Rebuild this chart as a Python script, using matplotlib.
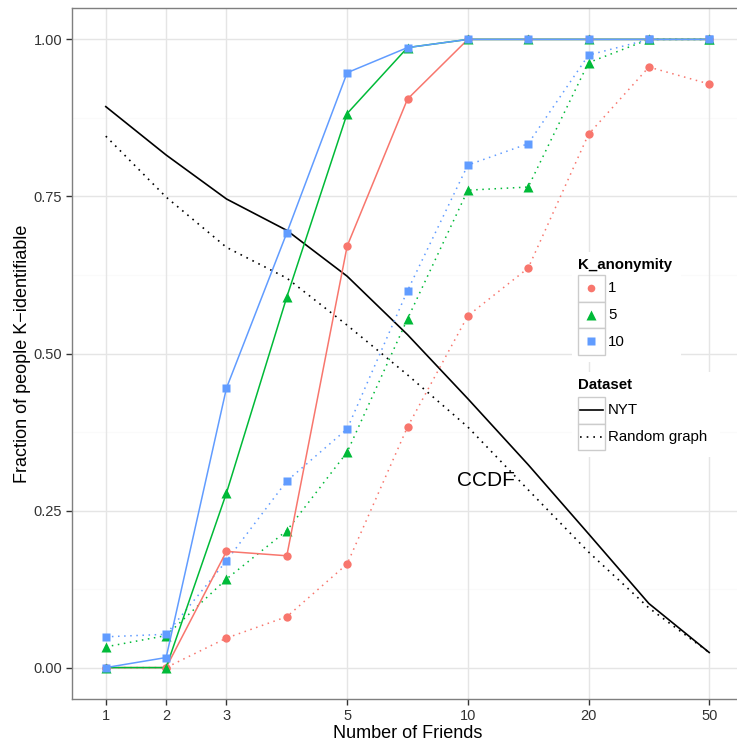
import matplotlib
matplotlib.use("Agg")
import matplotlib.pyplot as plt
from matplotlib.patches import Rectangle
from matplotlib.lines import Line2D

plt.rcParams['font.family'] = ['Liberation Sans', 'DejaVu Sans']

# x values are evenly spaced positions (ordinal friend counts)
friends = [1, 2, 3, 4, 5, 7, 10, 14, 20, 30, 50]
tick_labels = ['1', '2', '3', '5', '10', '20', '50']
tick_friends = [1, 2, 3, 5, 10, 20, 50]

ccdf_nyt = [0.893, 0.816, 0.746, 0.696, 0.623, 0.530, 0.428, 0.323, 0.213, 0.102, 0.024]
ccdf_random = [0.846, 0.749, 0.669, 0.620, 0.545, 0.466, 0.383, 0.283, 0.184, 0.095, 0.024]

nyt_k1 = [0.0, 0.0, 0.185, 0.178, 0.671, 0.905, 1.0, 1.0, 1.0, 1.0, 1.0]
nyt_k5 = [0.0, 0.0, 0.278, 0.590, 0.882, 0.987, 1.0, 1.0, 1.0, 1.0, 1.0]
nyt_k10 = [0.0, 0.016, 0.445, 0.692, 0.947, 0.987, 1.0, 1.0, 1.0, 1.0, 1.0]

rand_k1 = [0.0, 0.0, 0.047, 0.081, 0.165, 0.383, 0.560, 0.636, 0.849, 0.956, 0.929]
rand_k5 = [0.033, 0.051, 0.141, 0.218, 0.343, 0.555, 0.760, 0.765, 0.963, 1.0, 1.0]
rand_k10 = [0.049, 0.053, 0.170, 0.297, 0.380, 0.600, 0.800, 0.834, 0.975, 1.0, 1.0]

k_labels = ['1', '5', '10']
k_colors = ['#F8766D', '#00BA38', '#619CFF']
k_markers = ['o', '^', 's']
k_msize = [6, 7, 6]

W, H = 737, 742
fig = plt.figure(figsize=(W / 100, H / 100), dpi=100, facecolor='white')
# panel: left 72px, top 8px, bottom 699px, right runs past the image edge
ax = fig.add_axes([72 / W, 1 - 699 / H, (743 - 72) / W, (699 - 8) / H])

pos = list(range(len(friends)))
tick_pos = [friends.index(f) for f in tick_friends]

# grid
for y in [0.125, 0.375, 0.625, 0.875]:
    ax.axhline(y, color='#FAFAFA', lw=1.0, zorder=0)
for y in [0, 0.25, 0.5, 0.75, 1.0]:
    ax.axhline(y, color='#E5E5E5', lw=1.0, zorder=0)
for x in tick_pos:
    ax.axvline(x, color='#E5E5E5', lw=1.0, zorder=0)

dot = (0, (1, 3))

# CCDF lines
ax.plot(pos, ccdf_nyt, color='black', lw=1.2, zorder=2)
ax.plot(pos, ccdf_random, color='black', lw=1.2, ls=dot, zorder=2)
ax.text(6.3, 0.298, 'CCDF', fontsize=15, ha='center', va='center', zorder=3)

nyt_series = [nyt_k1, nyt_k5, nyt_k10]
rand_series = [rand_k1, rand_k5, rand_k10]
for i in range(3):
    c = k_colors[i]
    ax.plot(pos, rand_series[i], color=c, lw=1.1, ls=dot, zorder=3)
    ax.plot(pos, rand_series[i], color=c, lw=0, marker=k_markers[i],
            ms=k_msize[i], mec='none', zorder=4)
for i in range(3):
    c = k_colors[i]
    ax.plot(pos, nyt_series[i], color=c, lw=1.1, zorder=5)
    ax.plot(pos, nyt_series[i], color=c, lw=0, marker=k_markers[i],
            ms=k_msize[i], mec='none', zorder=6)

ax.set_xlim(-0.56, 10.56)
ax.set_ylim(-0.05, 1.05)
ax.set_xticks(tick_pos)
ax.set_xticklabels(tick_labels)
ax.set_yticks([0, 0.25, 0.5, 0.75, 1.0])
ax.set_yticklabels(['0.00', '0.25', '0.50', '0.75', '1.00'])
ax.tick_params(labelsize=10.5, labelcolor='#333333', color='#333333',
               length=4, width=1.0, pad=3)
for s in ['left', 'top', 'bottom', 'right']:
    ax.spines[s].set_color('#7F7F7F')
    ax.spines[s].set_linewidth(1.0)

ax.set_xlabel('Number of Friends', fontsize=13, labelpad=2)
ax.set_ylabel('Fraction of people K\u2212identifiable', fontsize=13, labelpad=2)


def fx(px):
    return px / W


def fy(py):
    return 1 - py / H


# K_anonymity legend
fig.patches.append(Rectangle((fx(572), fy(362)), fx(681) - fx(572), fy(252) - fy(362),
                             transform=fig.transFigure, facecolor='white',
                             edgecolor='none', zorder=10))
fig.text(fx(578), fy(265), 'K_anonymity', fontsize=10.8, fontweight='bold',
         va='center', ha='left', zorder=11)
key_tops = [275, 301.5, 328]
for i in range(3):
    t = key_tops[i]
    fig.patches.append(Rectangle((fx(578), fy(t + 26.5)), fx(604.5) - fx(578),
                                 fy(t) - fy(t + 26.5), transform=fig.transFigure,
                                 facecolor='white', edgecolor='#CCCCCC', lw=1.0, zorder=11))
    fig.lines.append(Line2D([fx(591)], [fy(t + 13.2)], transform=fig.transFigure,
                            marker=k_markers[i], ms=k_msize[i] - 0.5, color=k_colors[i],
                            mec='none', lw=0, zorder=12))
    fig.text(fx(608), fy(t + 13.5), k_labels[i], fontsize=10.8, va='center',
             ha='left', zorder=12)

# Dataset legend
fig.patches.append(Rectangle((fx(572), fy(457)), fx(720) - fx(572), fy(372) - fy(457),
                             transform=fig.transFigure, facecolor='white',
                             edgecolor='none', zorder=10))
fig.text(fx(578), fy(385), 'Dataset', fontsize=10.8, fontweight='bold',
         va='center', ha='left', zorder=11)
ds_labels = ['NYT', 'Random graph']
ds_styles = ['-', dot]
ds_tops = [397, 423.5]
for i in range(2):
    t = ds_tops[i]
    fig.patches.append(Rectangle((fx(578), fy(t + 26.5)), fx(604.5) - fx(578),
                                 fy(t) - fy(t + 26.5), transform=fig.transFigure,
                                 facecolor='white', edgecolor='#CCCCCC', lw=1.0, zorder=11))
    fig.lines.append(Line2D([fx(580), fx(602.5)], [fy(t + 13.2), fy(t + 13.2)],
                            transform=fig.transFigure, color='black', lw=1.2,
                            ls=ds_styles[i], zorder=12))
    fig.text(fx(608), fy(t + 13.5), ds_labels[i], fontsize=10.8, va='center',
             ha='left', zorder=12)

fig.savefig('out.png', dpi=100, facecolor='white')
